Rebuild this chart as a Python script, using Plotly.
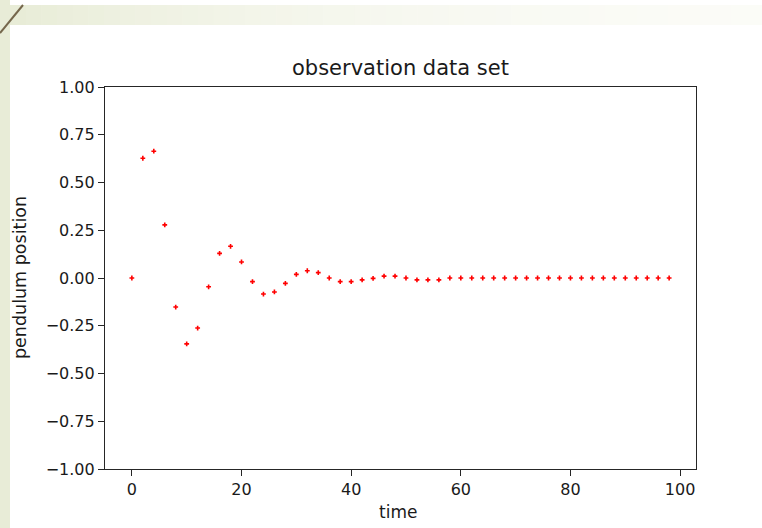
import math
import plotly.graph_objects as go

# ---- data ----
time = list(range(0, 100, 2))
position = [0.0, 0.627, 0.664, 0.278, -0.152, -0.345, -0.262, -0.046, 0.129, 0.166,
            0.084, -0.019, -0.084, -0.073, -0.028, 0.019, 0.038, 0.028, 0.0, -0.019,
            -0.019, -0.010, -0.002, 0.010, 0.010, 0.0, -0.010, -0.010, -0.010, 0.0,
            0.0, 0.0, 0.0, 0.0, 0.0, 0.0, 0.0, 0.0, 0.0, 0.0,
            0.0, 0.0, 0.0, 0.0, 0.0, 0.0, 0.0, 0.0, 0.0, 0.0]
x_ticks = [0, 20, 40, 60, 80, 100]
y_ticks = [-1.0, -0.75, -0.5, -0.25, 0.0, 0.25, 0.5, 0.75, 1.0]

W, H = 762, 528
L, R, T, B = 105, 66, 87, 59
PW, PH = W - L - R, H - T - B


def px(x):
    return (x - L) / PW


def py(y):
    return (H - B - y) / PH


fig = go.Figure()
fig.add_trace(go.Scatter(
    x=time, y=position, mode="markers",
    marker=dict(symbol="cross", size=4, color="red", line=dict(width=0)),
    showlegend=False, hoverinfo="skip",
))

shapes = []
# top gradient band
g0 = (232, 236, 215)
wt = (254, 254, 252)
steps = 48
x0 = 10
for i in range(steps):
    xa = x0 + (W - x0) * i / steps
    xb = x0 + (W - x0) * (i + 1) / steps + 0.5
    f = math.exp(-0.0028 * (xa - x0))
    c = tuple(int(round(wt[k] - (wt[k] - g0[k]) * f)) for k in range(3))
    shapes.append(dict(type="rect", xref="paper", yref="paper",
                       x0=px(xa), x1=px(xb), y0=py(25), y1=py(5),
                       fillcolor="rgb(%d,%d,%d)" % c, line=dict(width=0), layer="below"))
# left strip
shapes.append(dict(type="rect", xref="paper", yref="paper",
                   x0=px(0), x1=px(10), y0=py(H), y1=py(0),
                   fillcolor="rgb(232,236,215)", line=dict(width=0), layer="below"))
# diagonal line
shapes.append(dict(type="line", xref="paper", yref="paper",
                   x0=px(0), y0=py(33), x1=px(23), y1=py(5),
                   line=dict(color="#75674c", width=2)))

fig.update_layout(
    width=W, height=H,
    margin=dict(l=L, r=R, t=T, b=B),
    paper_bgcolor="white", plot_bgcolor="white",
    font=dict(family="DejaVu Sans", size=16, color="#1a1a1a"),
    shapes=shapes,
    annotations=[
        dict(text="observation data set", xref="paper", yref="paper",
             x=px(400), y=py(68), showarrow=False, xanchor="center", yanchor="middle",
             font=dict(size=21, color="#1a1a1a")),
        dict(text="time", xref="paper", yref="paper",
             x=px(398), y=py(512), showarrow=False, xanchor="center", yanchor="middle",
             font=dict(size=17, color="#1a1a1a")),
        dict(text="pendulum position", xref="paper", yref="paper",
             x=px(20), y=py(278), showarrow=False, textangle=-90,
             xanchor="center", yanchor="middle",
             font=dict(size=17.5, color="#1a1a1a")),
    ],
)
fig.update_xaxes(range=[-4.9, 102.9], tickvals=x_ticks, ticks="outside", ticklen=6,
                 tickcolor="#262626", showline=True, linecolor="#262626", linewidth=1.2,
                 mirror=True, showgrid=False, zeroline=False)
fig.update_yaxes(range=[-1, 1], tickvals=y_ticks, tickformat=".2f", ticks="outside",
                 ticklen=6, tickcolor="#262626", showline=True, linecolor="#262626",
                 linewidth=1.2, mirror=True, showgrid=False, zeroline=False)

fig.write_html("out.html", config={"displayModeBar": False},
               post_script="document.body.style.margin='0';document.body.style.overflow='hidden';")
